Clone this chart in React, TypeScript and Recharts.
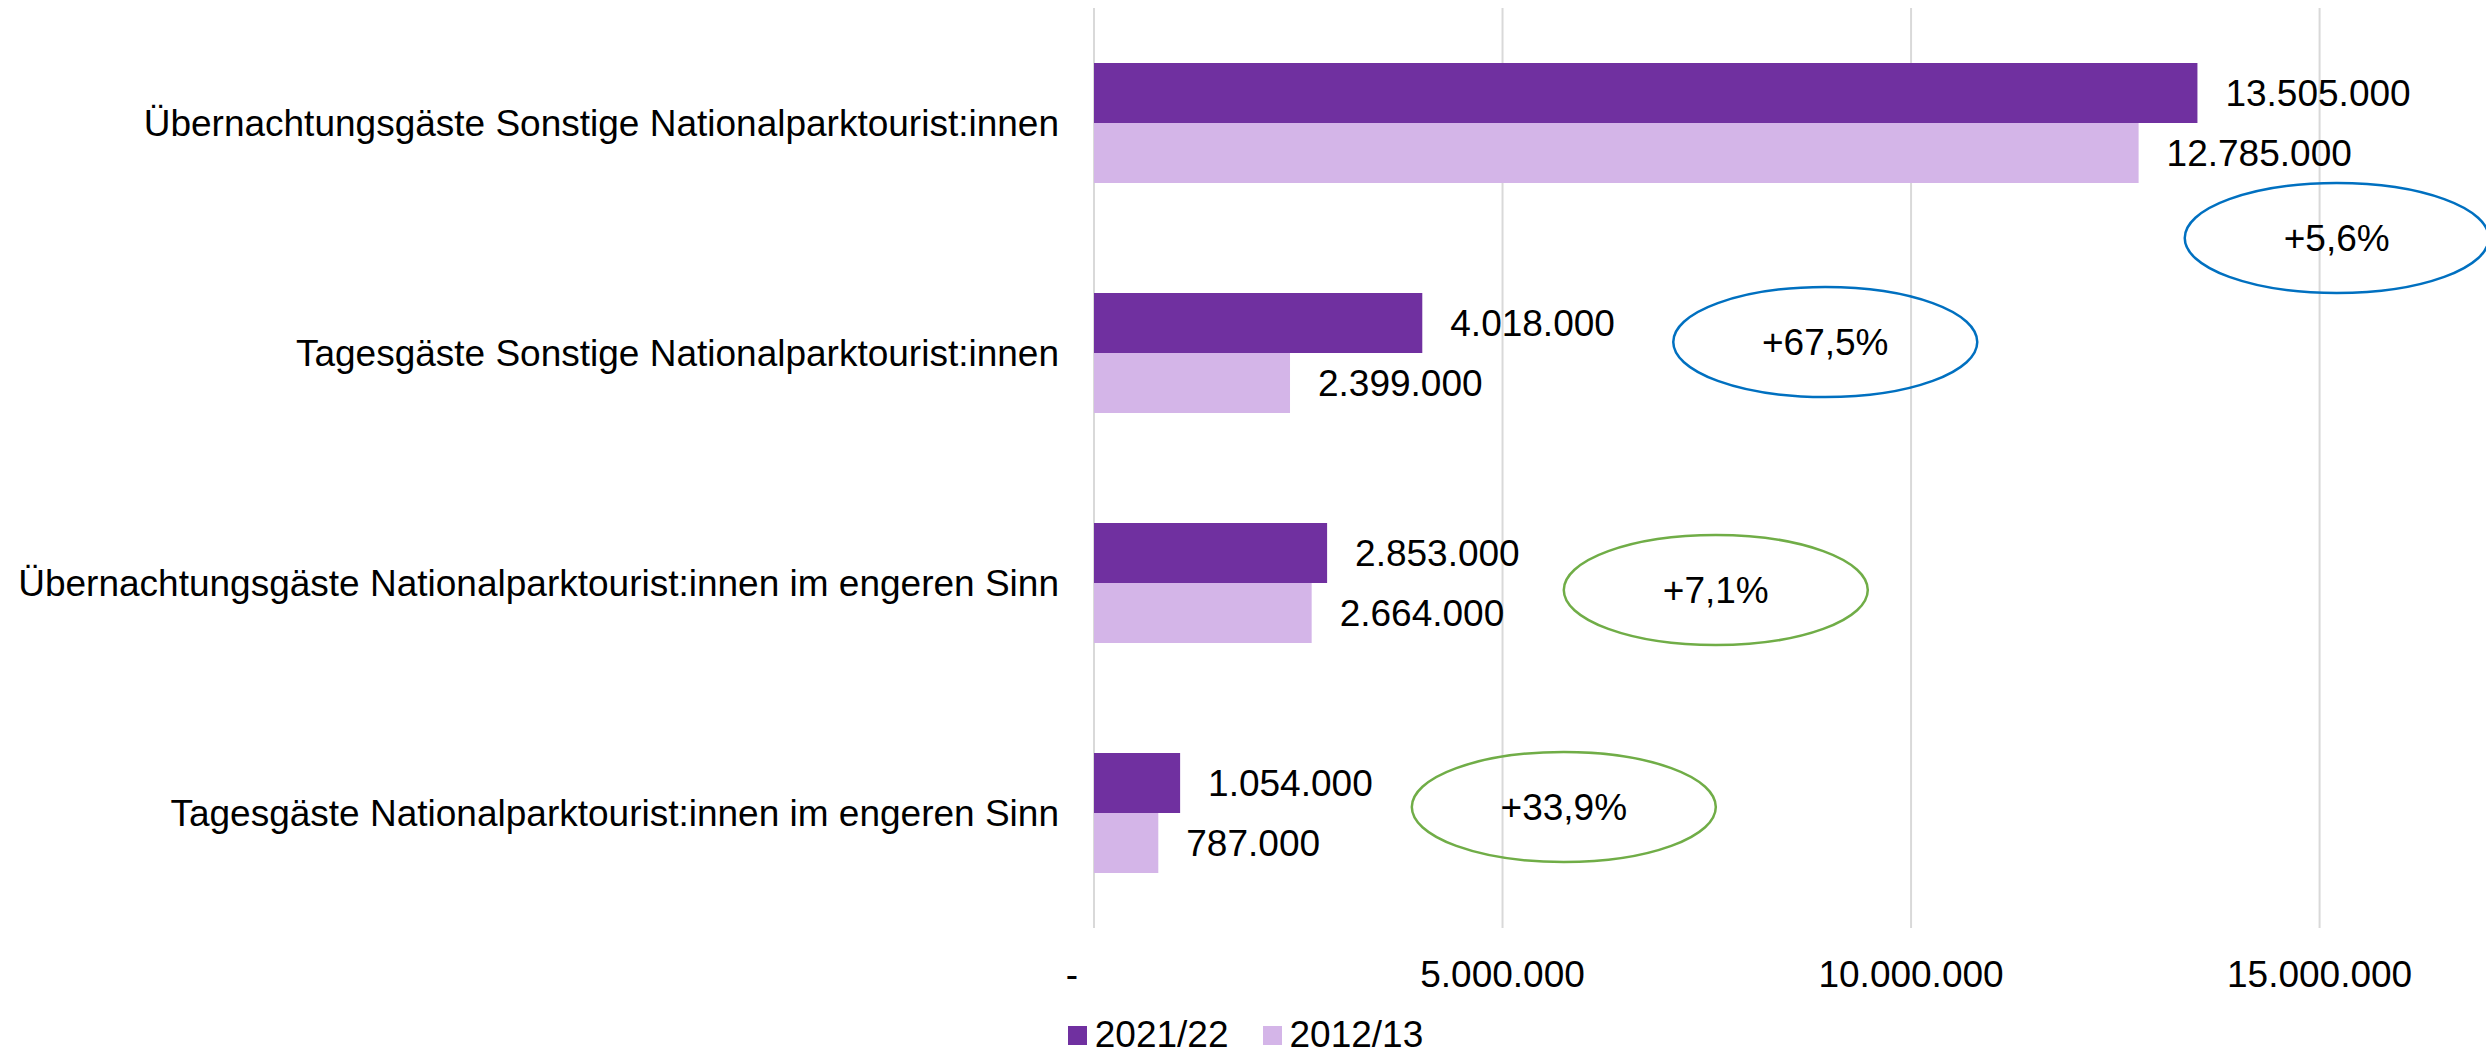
import { BarChart, Bar, XAxis, YAxis, CartesianGrid, Legend, LabelList, ReferenceDot } from "recharts"

const categories = [
  "Übernachtungsgäste Sonstige Nationalparktourist:innen",
  "Tagesgäste Sonstige Nationalparktourist:innen",
  "Übernachtungsgäste Nationalparktourist:innen im engeren Sinn",
  "Tagesgäste Nationalparktourist:innen im engeren Sinn",
]
const values2122 = [13505000, 4018000, 2853000, 1054000]
const values1213 = [12785000, 2399000, 2664000, 787000]
const xTicks = [0, 5000000, 10000000, 15000000]

// change annotations (ellipses)
const changeLabels = ["+5,6%", "+67,5%", "+7,1%", "+33,9%"]
const changeX = [15210000, 8950000, 7610000, 5750000]
const changeRow = [0, 1, 2, 3]
const changeDy = [115, -11, 7, -6]
const changeColor = ["#0070C0", "#0070C0", "#70AD47", "#70AD47"]

const data = categories.map((name, i) => ({ name, v2122: values2122[i], v1213: values1213[i] }))

const FONT = "'Liberation Sans', Arial, sans-serif"
const FS = 37
const DARK = "#7030A0"
const LIGHT = "#D4B5E8"

const fmt = (v: number) => String(Math.round(v)).replace(/\B(?=(\d{3})+(?!\d))/g, ".")

const XTick = ({ x, payload }: any) => {
  const v = payload.value
  return (
    <text x={v === 0 ? x - 22 : x} y={987} textAnchor="middle" fontSize={FS} fontFamily={FONT} fill="#000">
      {v === 0 ? "-" : fmt(v)}
    </text>
  )
}

const Ellipse = (dy: number, color: string, label: string) => (props: any) => {
  const { cx, cy } = props
  return (
    <g>
      <ellipse cx={cx} cy={cy + dy} rx={152} ry={55} fill="none" stroke={color} strokeWidth={2.5} />
      <text x={cx} y={cy + dy} dy={13} textAnchor="middle" fontSize={FS} fontFamily={FONT} fill="#000">{label}</text>
    </g>
  )
}

const LegendContent = () => (
  <div style={{ display: "flex", justifyContent: "center", alignItems: "center", paddingTop: 8, fontFamily: FONT, fontSize: FS, color: "#000", paddingLeft: 8 }}>
    {[["2021/22", DARK], ["2012/13", LIGHT]].map(([t, c], i) => (
      <div key={t} style={{ display: "flex", alignItems: "center", marginLeft: i ? 34 : 0 }}>
        <span style={{ width: 19, height: 19, background: c, display: "inline-block", marginRight: 8 }} />
        <span style={{ lineHeight: "38px" }}>{t}</span>
      </div>
    ))}
  </div>
)

export default function App() {
  return (
    <div style={{ position: "absolute", left: 0, top: 0, background: "#fff" }}>
      <BarChart
        width={2486}
        height={1055}
        data={data}
        layout="vertical"
        margin={{ top: 8, right: 3, left: 0, bottom: 0 }}
        barGap={0}
        barSize={60}
      >
        <CartesianGrid horizontal={false} syncWithTicks stroke="#D9D9D9" strokeWidth={2} />
        <XAxis
          type="number"
          domain={[0, 17000000]}
          ticks={xTicks}
          axisLine={false}
          tickLine={false}
          height={80}
          tick={<XTick />}
          interval={0}
        />
        <YAxis
          type="category"
          dataKey="name"
          width={1094}
          axisLine={false}
          tickLine={false}
          tickSize={0}
          tickMargin={35}
          tick={{ fontSize: FS, fontFamily: FONT, fill: "#000" }}
          interval={0}
        />
        <Legend verticalAlign="bottom" height={47} content={<LegendContent />} />
        <Bar dataKey="v2122" name="2021/22" fill={DARK} isAnimationActive={false}>
          <LabelList dataKey="v2122" position="right" offset={28} formatter={(v: any) => fmt(v)} style={{ fontSize: FS, fontFamily: FONT, fill: "#000" }} />
        </Bar>
        <Bar dataKey="v1213" name="2012/13" fill={LIGHT} isAnimationActive={false}>
          <LabelList dataKey="v1213" position="right" offset={28} formatter={(v: any) => fmt(v)} style={{ fontSize: FS, fontFamily: FONT, fill: "#000" }} />
        </Bar>
        {changeLabels.map((label, i) => (
          <ReferenceDot
            key={label}
            x={changeX[i]}
            y={categories[changeRow[i]]}
            ifOverflow="visible"
            shape={Ellipse(changeDy[i], changeColor[i], label)}
          />
        ))}
      </BarChart>
    </div>
  )
}
